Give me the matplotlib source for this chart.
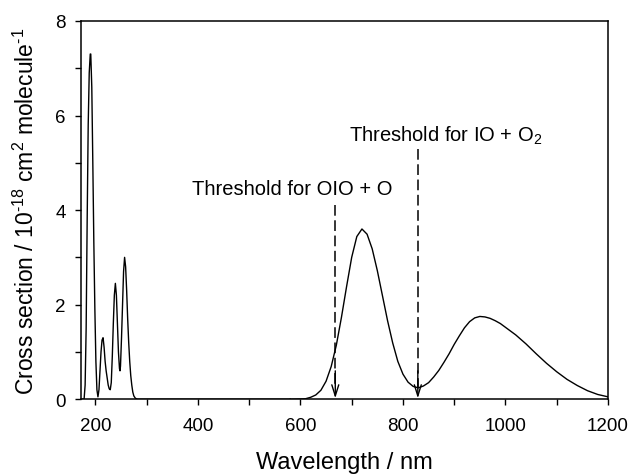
import matplotlib
matplotlib.use("Agg")
import matplotlib.pyplot as plt
from matplotlib.ticker import MultipleLocator

plt.rcParams["font.family"] = ["Liberation Sans", "DejaVu Sans"]
plt.rcParams["mathtext.fontset"] = "custom"
plt.rcParams["mathtext.rm"] = "Liberation Sans"
plt.rcParams["mathtext.it"] = "Liberation Sans"
plt.rcParams["axes.unicode_minus"] = False

# UV bands (nm, 1e-18 cm^2 molecule^-1)
uv_wl = [175, 178, 180, 182, 184, 186, 188, 190, 191, 193, 195, 197, 199, 201, 203,
         205, 207, 209, 211, 213, 215, 217, 219, 221, 223, 225, 227, 229, 231, 233,
         235, 237, 239, 241, 243, 245, 247, 248, 249, 251, 253, 255, 257, 259, 261,
         263, 265, 267, 269, 271, 273, 275, 278, 282, 300, 400, 500, 580]
uv_xs = [0, 0, 0.3, 1.5, 3.8, 5.8, 6.9, 7.3, 7.3, 6.6, 5.0, 3.3, 1.9, 0.8, 0.2,
         0.05, 0.2, 0.6, 1.0, 1.25, 1.3, 1.1, 0.8, 0.6, 0.45, 0.3, 0.22, 0.2, 0.35, 0.9,
         1.6, 2.2, 2.45, 2.2, 1.6, 1.0, 0.65, 0.6, 0.7, 1.3, 2.0, 2.7, 3.0, 2.8, 2.3,
         1.7, 1.2, 0.8, 0.5, 0.3, 0.15, 0.07, 0.02, 0, 0, 0, 0, 0]

# visible bands
vis_wl = [580, 600, 610, 620, 630, 640, 650, 660, 670, 680, 690, 700, 710, 720,
          730, 740, 750, 760, 770, 780, 790, 800, 810, 820, 830, 840, 850, 860,
          870, 880, 890, 900, 910, 920, 930, 940, 950, 960, 970, 980, 990, 1000,
          1020, 1040, 1060, 1080, 1100, 1120, 1140, 1160, 1180, 1200]
vis_xs = [0, 0.005, 0.01, 0.04, 0.09, 0.19, 0.38, 0.69, 1.14, 1.73, 2.38, 3.00, 3.44, 3.60,
          3.49, 3.18, 2.72, 2.19, 1.66, 1.19, 0.80, 0.53, 0.36, 0.27, 0.24, 0.28, 0.35, 0.47,
          0.61, 0.78, 0.96, 1.16, 1.34, 1.51, 1.64, 1.72, 1.75, 1.74, 1.71, 1.66, 1.60, 1.52,
          1.36, 1.17, 0.96, 0.76, 0.58, 0.42, 0.29, 0.18, 0.10, 0.05]

thresholds = [668, 829]
thr_top = [4.1, 5.3]
thr_labels = ["Threshold for OIO + O", "Threshold for IO + O$_2$"]
thr_text_pos = [(585, 4.45), (884, 5.6)]

fig = plt.figure(figsize=(6.33, 4.77), dpi=100)
ax = fig.add_axes([0.128, 0.161, 0.8325, 0.793])

ax.plot(uv_wl, uv_xs, color="black", lw=1.0)
ax.plot(vis_wl, vis_xs, color="black", lw=1.0)

for x, top, lab, (tx, ty) in zip(thresholds, thr_top, thr_labels, thr_text_pos):
    ax.plot([x, x], [top, 0.25], color="black", lw=1.1, linestyle=(0, (7, 3)))
    ax.annotate("", xy=(x, 0.02), xytext=(x, 0.6),
                arrowprops=dict(arrowstyle="->,head_length=0.8,head_width=0.25",
                                color="black", lw=1.0, shrinkA=0, shrinkB=0))
    ax.text(tx, ty, lab, ha="center", va="center", fontsize=14.5)

ax.set_xlim(172, 1200)
ax.set_ylim(0, 8)
ax.xaxis.set_major_locator(MultipleLocator(200))
ax.xaxis.set_minor_locator(MultipleLocator(100))
ax.yaxis.set_major_locator(MultipleLocator(2))
ax.yaxis.set_minor_locator(MultipleLocator(1))
ax.tick_params(which="both", direction="out", length=4, width=1, labelsize=13.5,
               top=False, right=False)
ax.tick_params(axis="x", pad=9)
ax.tick_params(axis="y", pad=7)
for s in ax.spines.values():
    s.set_linewidth(1.1)

ax.set_xlabel("Wavelength / nm", fontsize=17, labelpad=12)
ax.set_ylabel("Cross section / 10$^{\u201018}$ cm$^{2}$ molecule$^{\u20101}$",
              fontsize=16.5, labelpad=12)

fig.savefig("out.png", dpi=100)
